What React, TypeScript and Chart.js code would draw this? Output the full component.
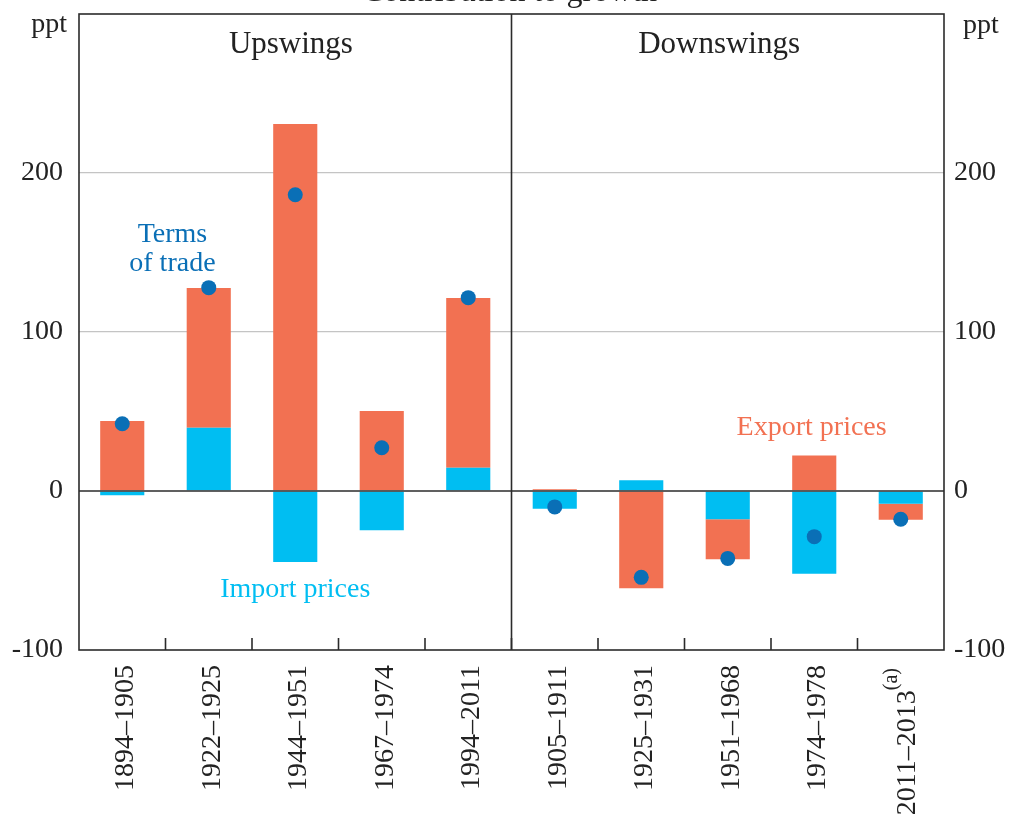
import React, { useEffect, useRef } from 'react';
import { Chart, registerables } from 'chart.js';

Chart.register(...registerables);

// ---------- data ----------
const categories = [
  '1894–1905', '1922–1925', '1944–1951', '1967–1974', '1994–2011',
  '1905–1911', '1925–1931', '1951–1968', '1974–1978', '2011–2013',
];
const categoryNotes = ['', '', '', '', '', '', '', '', '', '(a)'];
const importPrices = [-2.7, 39.8, -44.7, -24.7, 14.7, -11.1, 6.7, -17.8, -52.0, -8.0];
const exportPrices = [44.0, 87.9, 230.8, 50.3, 106.7, 1.1, -61.2, -25.2, 22.4, -10.1];
const termsOfTrade = [42.3, 127.9, 186.3, 27.2, 121.6, -10.0, -54.3, -42.4, -28.7, -17.8];
const yTickLabels = [-100, 0, 100, 200];
const yMin = -100;
const yMax = 300;
const panelTitles = ['Upswings', 'Downswings'];
const chartTitle = 'Contribution to growth';
const unitLabel = 'ppt';

// ---------- style ----------
const FONT = "'Liberation Serif', 'Times New Roman', Times, serif";
const ORANGE = '#F27152';
const CYAN = '#00BEF2';
const DOT = '#0A6FB6';
const INK = '#222222';
const LINE = '#2b2b2b';
const GRID = '#c4c4c4';

const overlay = {
  id: 'overlay',
  afterDatasetsDraw(chart: any) {
    const { ctx, chartArea: a, scales } = chart;
    const x = scales.x;
    const y = scales.y;
    ctx.save();
    ctx.strokeStyle = LINE;
    ctx.lineWidth = 1.6;
    const seg = (x1: number, y1: number, x2: number, y2: number) => {
      ctx.beginPath();
      ctx.moveTo(x1, y1);
      ctx.lineTo(x2, y2);
      ctx.stroke();
    };
    const y0 = y.getPixelForValue(0);
    seg(a.left, y0, a.right, y0);
    ctx.strokeRect(a.left, a.top, a.right - a.left, a.bottom - a.top);
    const xd = (x.getPixelForValue(4) + x.getPixelForValue(5)) / 2;
    seg(xd, a.top, xd, a.bottom);
    for (let i = 0; i < categories.length - 1; i++) {
      const xb = (x.getPixelForValue(i) + x.getPixelForValue(i + 1)) / 2;
      seg(xb, a.bottom, xb, a.bottom - 12);
    }
    ctx.restore();
  },
  afterDraw(chart: any) {
    const { ctx, chartArea: a, scales } = chart;
    const x = scales.x;
    const y = scales.y;
    ctx.save();
    ctx.textBaseline = 'alphabetic';

    // cut-off title
    ctx.fillStyle = INK;
    ctx.font = `32px ${FONT}`;
    ctx.textAlign = 'center';
    ctx.fillText(chartTitle, (a.left + a.right) / 2 - 2, 1);

    // unit labels
    ctx.font = `28px ${FONT}`;
    ctx.textAlign = 'right';
    ctx.fillText(unitLabel, a.left - 12, a.top + 18);
    ctx.textAlign = 'left';
    ctx.fillText(unitLabel, a.right + 19, a.top + 19);

    // panel titles
    ctx.font = `31px ${FONT}`;
    ctx.textAlign = 'center';
    ctx.fillText(panelTitles[0], x.getPixelForValue(1.95), y.getPixelForValue(275.5));
    ctx.fillText(panelTitles[1], x.getPixelForValue(6.9), y.getPixelForValue(275.5));

    // series annotations
    ctx.font = `28px ${FONT}`;
    ctx.fillStyle = DOT;
    ctx.fillText('Terms', x.getPixelForValue(0.58), y.getPixelForValue(156.8));
    ctx.fillText('of trade', x.getPixelForValue(0.58), y.getPixelForValue(138.5));
    ctx.fillStyle = CYAN;
    ctx.fillText('Import prices', x.getPixelForValue(2.0), y.getPixelForValue(-66.7));
    ctx.fillStyle = ORANGE;
    ctx.fillText('Export prices', x.getPixelForValue(7.97), y.getPixelForValue(35.2));

    // rotated category labels
    ctx.fillStyle = INK;
    categories.forEach((lab, i) => {
      const px = x.getPixelForValue(i);
      ctx.save();
      ctx.translate(px, a.bottom + 15);
      ctx.rotate(-Math.PI / 2);
      ctx.textAlign = 'right';
      let off = 0;
      const note = categoryNotes[i];
      if (note) {
        ctx.font = `20px ${FONT}`;
        ctx.fillText(note, -3, 11 - 15);
        off = ctx.measureText(note).width + 3;
      }
      ctx.font = `28px ${FONT}`;
      ctx.fillText(lab, -off, note ? 14 : 11);
      ctx.restore();
    });
    ctx.restore();
  },
};

export default function App() {
  const ref = useRef<HTMLCanvasElement>(null);

  useEffect(() => {
    if (!ref.current) return;
    const tickCb = (v: any) => (yTickLabels.includes(Number(v)) ? String(v) : '');
    const chart = new Chart(ref.current, {
      type: 'bar',
      data: {
        labels: categories,
        datasets: [
          {
            type: 'bar',
            label: 'Import prices',
            data: importPrices,
            backgroundColor: CYAN,
            borderWidth: 0,
            stack: 'prices',
            order: 1,
            categoryPercentage: 0.51,
            barPercentage: 1,
          },
          {
            type: 'bar',
            label: 'Export prices',
            data: exportPrices,
            backgroundColor: ORANGE,
            borderWidth: 0,
            stack: 'prices',
            order: 1,
            categoryPercentage: 0.51,
            barPercentage: 1,
          },
          {
            type: 'line',
            label: 'Terms of trade',
            data: termsOfTrade,
            showLine: false,
            pointRadius: 7.5,
            pointHoverRadius: 7.5,
            pointBackgroundColor: DOT,
            pointBorderWidth: 0,
            borderColor: DOT,
            stack: 'tot',
            order: 0,
          } as any,
        ],
      },
      options: {
        responsive: false,
        animation: false,
        layout: { padding: { top: 14, left: 0, right: 0, bottom: 0 } },
        plugins: {
          legend: { display: false },
          tooltip: { enabled: false },
          title: { display: false },
        },
        scales: {
          x: {
            stacked: true,
            grid: { display: false },
            border: { display: false },
            ticks: { display: false },
            afterFit: (s: any) => {
              s.height = 170;
              s.paddingLeft = 0;
              s.paddingRight = 0;
            },
          },
          y: {
            position: 'left',
            stacked: true,
            min: yMin,
            max: yMax,
            border: { display: false },
            grid: {
              drawTicks: false,
              lineWidth: 1.3,
              color: (c: any) =>
                c.tick && (c.tick.value === 100 || c.tick.value === 200) ? GRID : 'rgba(0,0,0,0)',
            },
            ticks: {
              stepSize: 100,
              padding: 16,
              color: INK,
              font: { family: FONT, size: 28 },
              callback: tickCb,
            },
            afterFit: (s: any) => {
              s.width = 79;
              s.paddingTop = 0;
              s.paddingBottom = 0;
            },
          },
          y2: {
            position: 'right',
            min: yMin,
            max: yMax,
            border: { display: false },
            grid: { display: false, drawTicks: false },
            ticks: {
              stepSize: 100,
              padding: 10,
              color: INK,
              font: { family: FONT, size: 28 },
              callback: tickCb,
            },
            afterFit: (s: any) => {
              s.width = 74;
              s.paddingTop = 0;
              s.paddingBottom = 0;
            },
          },
        },
      },
      plugins: [overlay],
    });
    return () => chart.destroy();
  }, []);

  return (
    <div style={{ position: 'absolute', left: 0, top: 0, width: 1018, height: 820, background: '#fff' }}>
      <canvas ref={ref} width={1018} height={820} style={{ display: 'block' }} />
    </div>
  );
}
